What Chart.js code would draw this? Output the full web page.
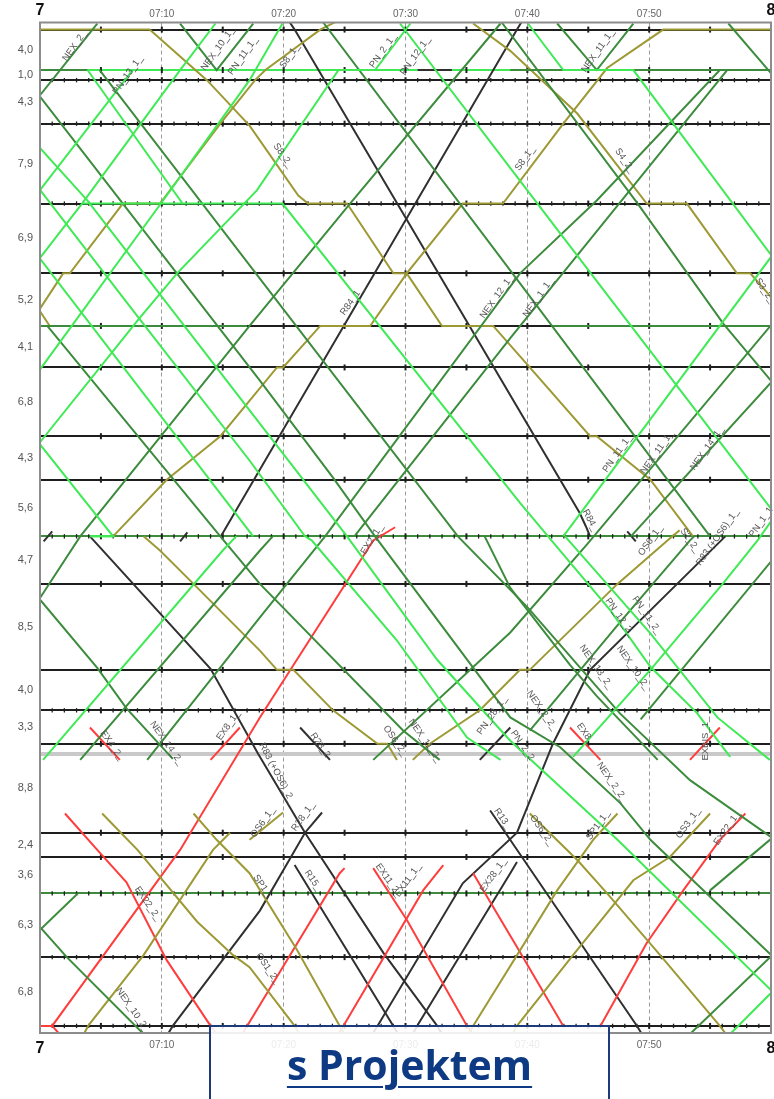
<!DOCTYPE html>
<html>
<head>
<meta charset="utf-8">
<script src="https://cdn.jsdelivr.net/npm/chart.js@4.4.1/dist/chart.umd.min.js"></script>
<style>
  html, body { margin: 0; padding: 0; background: #fff; }
  #wrap { position: relative; width: 774px; height: 1099px; overflow: hidden; }
  #graph { display: block; }
  #note {
    position: absolute; left: 209px; top: 1025px; width: 401px; height: 100px;
    box-sizing: border-box; border: 2px solid #1d3b7c; background: rgba(255,255,255,0.87);
  }
  #note span {
    position: absolute; left: 0; right: 0; top: 17px; text-align: center;
    font: bold 41px/41px "Open Sans", sans-serif; color: #0d3a82;
    text-decoration: underline; text-decoration-thickness: 2px; text-underline-offset: 6px;
  }
</style>
</head>
<body>
<div id="wrap">
  <canvas id="graph" width="774" height="1099"></canvas>
  <div id="note"><span>s Projektem</span></div>
</div>
<script>
// ---- line: stations (km from the top station) and section lengths ----
const stationKm = [0, 4.0, 5.0, 9.3, 17.2, 24.1, 29.3, 33.4, 40.2, 44.5, 50.1, 54.8, 63.3, 67.3, 70.6, 79.4, 81.8, 85.4, 91.7, 98.5];
const sectionLength = ['4,0','1,0','4,3','7,9','6,9','5,2','4,1','6,8','4,3','5,6','4,7','8,5','4,0','3,3','8,8','2,4','3,6','6,3','6,8'];
const loopKm = 71.6;                                // passing loop between 3,3 and 8,8
const minuteTickStations = [2, 3, 4, 10, 13, 17, 18, 19];
const timeTicks = [0, 10, 20, 30, 40, 50, 60];      // minutes after 7:00

// ---- train paths: [minute after 7:00, km] ----
// light green (PN)
const pn13_1  = [[-0.6,16.8],[7.6,4.0]];
const pnA     = [[-0.6,14.9],[8.1,28.5],[17.2,42.6],[21.75,50.1],[22.3,50.5],[29.3,60.4],[35.05,70.0],[37.8,72.2]];
const pnB     = [[-0.6,21.7],[17.5,50.1]];
const pnC     = [[-0.6,40.1],[6.0,50.1],[4.1,50.1]];
const pn2_1   = [[-0.6,41.7],[8.05,28.7],[11.25,24.1],[17.8,15.9],[24.5,4.0],[27.5,4.0],[30.4,-0.6]];
const pn11_1a = [[-0.6,23.5],[3.45,17.2],[11.5,4.0],[14.4,-0.6]];
const pnD     = [[-0.6,34.6],[10.1,16.9],[17.2,5.0],[19.9,-0.6]];
const pn12    = [[3.9,4.0],[11.7,17.2],[19.9,17.2],[39.4,46.8],[41.7,50.1],[46.8,57.4],[50.1,63.0],[53.95,67.6],[56.65,71.9]];
const pnE     = [[29.55,-0.6],[40.0,15.9],[59.9,47.2],[60.5,48.1]];
const pnF     = [[40.05,-0.6],[42.95,4.0],[48.7,4.0],[60.2,22.6]];
const pn11_1  = [[42.95,50.1],[60.3,22.0]];
const pn11_2  = [[43.1,50.1],[50.1,59.7],[55.6,68.0],[59.9,72.2]];
const pn1_1   = [[43.75,71.9],[50.1,63.3],[56.1,54.7],[58.9,50.5],[60.2,48.3]];
const pn2_2   = [[-0.6,10.9],[3.9,16.9],[25.2,50.1],[32.6,62.3],[38.6,70.3],[47.4,80.1],[60.2,95.2]];
const pnG     = [[0.25,72.2],[15.0,51.5],[16.1,50.1]];
const pnH     = [[56.65,99.3],[60.2,95.0]];
const pnS4    = [[3.45,17.2],[11.7,17.2]];
const pnS10   = [[4.1,50.1],[6.0,50.1]];

// dark green (NEX)
const nex2_1  = [[-1.0,8.0],[4.7,-0.6]];
const nex2_2  = [[-0.6,5.7],[6.8,17.2],[18.05,34.7],[24.05,44.3],[27.5,50.1],[38.6,68.0],[42.7,70.95],[47.65,76.5],[50.1,80.1],[60.2,91.7]];
const nex10_1 = [[11.5,-0.6],[14.5,4.0],[17.5,-0.6]];
const nex10_2 = [[4.9,4.0],[34.3,50.1],[40.0,57.1],[47.6,67.6],[53.35,74.2],[60.2,80.0]];
const nex13_2 = [[36.5,50.1],[38.6,55.2],[43.5,62.8],[45.7,65.9],[50.7,72.2]];
const nexA    = [[23.25,-0.7],[39.4,25.1],[55.0,50.1]];
const nexB    = [[37.9,-0.7],[49.0,17.1],[56.1,29.1],[60.2,35.0]];
const nex11_1 = [[42.45,-0.6],[45.7,4.0],[48.7,-0.6]];
const nexC    = [[56.5,-0.6],[60.2,4.6]];
const nexD    = [[-0.6,57.3],[3.3,50.1],[17.2,29.3],[25.45,17.2],[37.8,-0.6]];
const nex12_1 = [[8.8,72.2],[18.05,58.1],[23.4,50.1],[39.4,24.1],[45.7,16.9],[55.8,4.0],[60.2,4.0]];
const nex14_1 = [[27.35,72.2],[38.6,59.6],[44.9,50.9],[60.3,28.8]];
const nexE    = [[48.5,50.1],[60.3,34.5]];
const nex11_2 = [[0.6,29.3],[14.8,50.1],[18.05,54.8],[29.8,69.3],[32.8,72.2]];
const nex1_1  = [[25.8,50.1],[38.6,30.5],[47.6,17.1],[56.4,4.0]];
const nex14_2 = [[-0.6,55.5],[4.7,63.1],[7.1,67.1],[10.9,72.1]];
const nexF    = [[3.3,72.2],[18.05,51.5],[19.1,50.1]];
const nexG    = [[40.2,69.3],[47.6,58.6],[53.35,50.5],[53.7,50.1]];
const nexH    = [[49.3,68.2],[60.2,52.3]];
const nex10_2b= [[-0.6,87.9],[2.2,91.7],[8.5,99.3]];
const nexI    = [[-0.6,89.7],[3.1,85.4]];
const nexJ    = [[53.35,99.3],[60.2,91.4]];
const nexK    = [[55.0,85.1],[60.2,79.8]];
const nexS1a  = [[0,4.0],[3.9,4.0]];
const nexS1b  = [[38.6,4.0],[60,4.0]];
const nexS6a  = [[0,29.3],[17,29.3]];
const nexS6b  = [[42.1,29.3],[60,29.3]];

// olive (S, OS, SP)
const s8_2    = [[-0.5,0],[9.0,0],[13.7,5.0],[17.2,9.5],[21.2,16.4],[22.0,17.2],[25.2,17.2],[29.0,24.1],[30.1,24.1],[33.0,29.3],[37.2,29.3],[40.2,33.4],[45.15,40.2],[45.7,40.2],[50.1,44.5],[53.6,50.1]];
const s8_1    = [[6.0,50.1],[10.4,44.5],[14.8,40.2],[19.45,33.4],[19.95,33.4],[23.0,29.3],[27.1,29.3],[30.1,24.1],[34.7,17.2],[38.0,17.2],[42.95,9.3],[46.55,3.8],[51.15,0],[60.5,0]];
const s4_2    = [[35.55,-0.6],[38.6,2.1],[44.1,8.3],[49.8,17.2],[53.1,17.2],[57.2,24.1],[58.3,24.1],[60.4,27.0]];
const s8_1a   = [[-0.5,28.5],[1.9,24.1],[2.45,24.1],[6.8,17.2],[9.85,17.2],[14.8,9.3],[17.65,5.0],[18.5,4.0],[23.0,0],[24.5,-0.9]];
const s2Stub  = [[-0.3,27.3],[0.8,29.3]];
const os6_2   = [[8.5,50.1],[9.85,51.5],[12.6,54.8],[18.05,61.4],[19.45,63.3],[20.8,63.3],[24.05,67.3],[27.7,70.6],[28.5,70.6],[29.3,72.2]];
const os6_1   = [[30.6,72.2],[32.0,70.6],[36.1,67.3],[39.4,63.3],[40.2,63.3],[47.4,54.8],[51.5,50.5],[52.5,49.5]];
const os1_2   = [[5.1,77.5],[8.0,81.1],[12.9,88.2],[15.85,91.5],[17.2,92.7],[20.9,98.5],[21.3,99.3]];
const osA     = [[3.6,99.3],[3.95,98.5],[8.5,91.5],[14.2,81.1],[15.6,79.4]];
const sp1_2   = [[12.6,77.5],[14.5,80.1],[17.2,83.4],[21.1,91.0],[24.6,98.5],[25.0,99.3]];
const os6_1b  = [[17.2,80.1],[19.95,77.4]];
const os6_2b  = [[40.2,77.5],[44.1,82.1],[46.55,85.4],[50.9,91.5],[55.8,98.5],[56.3,99.3]];
const sp1_1   = [[35.2,99.3],[35.55,98.5],[42.45,85.1],[45.4,80.1],[47.4,77.5]];
const os3_1   = [[38.8,99.3],[39.15,98.5],[43.75,91.5],[48.7,84.1],[51.7,81.8],[55.0,77.5]];

// red (EX)
const ex2_1   = [[-0.5,98.5],[1.0,98.5],[11.5,81.1],[18.05,68.0],[27.35,50.5],[29.15,49.2]];
const exTail  = [[1.0,98.5],[1.6,99.3]];
const ex22_2  = [[2.05,77.5],[4.7,81.1],[7.1,84.3],[10.4,92.0],[14.0,98.5],[14.5,99.3]];
const ex28_22 = [[35.55,83.4],[39.15,90.7],[42.95,98.5],[46.0,98.5],[49.8,90.3],[52.8,85.1],[55.8,80.1],[57.9,77.5]];
const exA     = [[16.6,99.3],[17.0,98.5],[24.6,83.4],[25.0,82.9]];
const ex11_1  = [[24.5,99.3],[24.9,98.5],[31.45,85.1],[33.1,82.6]];
const ex11_2  = [[27.35,82.9],[30.1,88.0],[35.05,98.5],[35.5,99.3]];
const ex4_2   = [[4.1,69.0],[6.55,72.2]];
const ex8_1   = [[14.0,72.2],[16.4,69.0]];
const ex8_2   = [[43.5,69.0],[46.0,72.2]];
const exbis_1 = [[53.35,72.2],[55.8,69.0]];

// black (R)
const r84_1   = [[14.85,50.1],[39.15,0],[39.6,-0.9]];
const r84_2   = [[20.4,-0.9],[20.9,0],[44.3,47.8],[44.8,49.1],[45.15,50.1]];
const r83_2   = [[4.1,50.1],[14.0,63.2],[17.9,71.6],[21.75,79.4],[28.2,91.3],[32.6,98.5],[33.0,99.3]];
const r83_1   = [[27.3,99.3],[27.7,98.5],[34.7,84.4],[39.15,79.4],[42.1,70.6],[45.15,63.3],[56.25,50.1]];
const r28_1   = [[10.5,99.3],[10.9,98.5],[18.05,87.1],[21.75,79.4],[23.15,77.4]];
const r15     = [[20.9,82.6],[29.0,98.5],[29.4,99.3]];
const rEx28   = [[30.6,99.3],[30.95,98.5],[38.6,83.4],[39.15,82.3]];
const r13     = [[36.95,77.2],[38.2,79.4],[49.0,98.5],[49.4,99.3]];
const r28_2   = [[21.35,69.0],[23.8,72.2]];
const r28s    = [[36.1,72.2],[38.6,69.0]];
const rS1     = [[31.0,4.0],[33.8,4.0]];
const rStubA  = [[0.3,50.6],[1.0,49.6]];
const rStubB  = [[11.5,50.6],[12.1,49.7]];
const rStubC  = [[48.2,49.6],[48.9,50.6]];

// train numbers written along the paths: [text, minute, km, angle]
const trainLabels = [
  ['NEX_2_',2.85,1.6,-55], ['PN_13_1_',7.2,4.5,-55], ['NEX_10_1_',14.6,1.9,-55], ['PN_11_1_',16.65,2.6,-55],
  ['S8_1_',20.5,2.6,-55], ['PN_2_1_',28.15,2.1,-55], ['PN_12_1_',30.8,2.6,-55], ['NEX_11_1_',45.8,2.1,-55],
  ['S8_2_',19.95,12.45,55], ['S8_1_',39.8,12.75,-55], ['S4_2_',48.0,12.95,55],
  ['R84_1_',25.6,26.8,-55], ['NEX_12_1_',37.5,26.4,-55], ['NEX_1_1_',40.9,26.5,-55], ['S3_2_',59.5,25.8,55],
  ['PN_11_1_',47.4,41.9,-55], ['NEX_11_1_',50.65,41.8,-55], ['NEX_14_1_',54.75,41.4,-55],
  ['R84_',45.15,48.5,62], ['EX2_1_',27.25,50.4,-58], ['OS6_1_',50.1,50.5,-55], ['S2_2_',53.35,50.5,55],
  ['R83 (+OS6)_1_',55.6,50.2,-55], ['PN_1_1_',59.3,48.5,-55],
  ['PN_12_2_',47.6,58.1,55], ['PN_11_2_',49.8,57.9,55], ['NEX_13_2_',45.65,63.0,55], ['NEX_10_2_',48.7,63.1,55],
  ['NEX_2_2_',41.2,67.3,55], ['EX8_',44.75,69.6,55], ['PN_28_1_',37.1,67.8,-55], ['PN_2_2',39.6,70.75,55],
  ['NEX_11_2_',31.6,70.3,55], ['OS6_2_',29.15,70.3,55], ['R28_2',23.0,70.75,55], ['EX8_1_',15.45,68.8,-55],
  ['NEX_14_2_',10.4,70.55,55], ['EX4_2_',5.9,70.75,55], ['R83 (+OS6)_2_',19.45,73.5,62], ['EXBIS_1_',54.6,70.1,-90],
  ['NEX_2_2_',46.95,74.4,55], ['OS6_2_',41.2,79.15,55], ['SP1_1_',45.8,78.65,-55], ['OS3_1_',53.2,78.45,-55],
  ['EX22_1_',56.4,78.95,-55], ['R13_',37.95,78.0,55], ['OS6_1_',18.3,78.35,-55], ['R28_1_',21.6,77.8,-55],
  ['SP1_',18.2,84.6,55], ['R15_',22.4,84.1,55], ['EX11_2_',28.6,84.1,55], ['EX11_1_',30.2,84.1,-55],
  ['EX28_1_',37.2,83.6,-55], ['EX22_2_',8.85,86.4,55], ['OS1_2_',18.7,92.8,55], ['NEX_10_2_',7.6,96.9,55]
];

// ---- colours ----
const PN = '#3fea55', NEX = '#3d8c3d', OLIVE = '#9d9934', EX = '#ff3d3d', R = '#303030';

const paths = [
  [PN, [pn13_1, pnA, pnB, pnC, pn2_1, pn11_1a, pnD, pn12, pnE, pnF, pn11_1, pn11_2, pn1_1, pn2_2, pnG, pnH, pnS4, pnS10]],
  [NEX, [nex2_1, nex2_2, nex10_1, nex10_2, nex13_2, nexA, nexB, nex11_1, nexC, nexD, nex12_1, nex14_1, nexE, nex11_2,
         nex1_1, nex14_2, nexF, nexG, nexH, nex10_2b, nexI, nexJ, nexK, nexS1a, nexS1b, nexS6a, nexS6b]],
  [OLIVE, [s8_2, s8_1, s4_2, s8_1a, s2Stub, os6_2, os6_1, os1_2, osA, sp1_2, os6_1b, os6_2b, sp1_1, os3_1]],
  [EX, [ex2_1, exTail, ex22_2, ex28_22, exA, ex11_1, ex11_2, ex4_2, ex8_1, ex8_2, exbis_1]],
  [R, [r84_1, r84_2, r83_2, r83_1, r28_1, r15, rEx28, r13, r28_2, r28s, rS1, rStubA, rStubB, rStubC]]
];

const datasets = [];
paths.forEach(([color, group]) => group.forEach(pts => datasets.push({
  data: pts.map(([m, km]) => ({ x: m, y: km })),
  borderColor: color, borderWidth: 2, pointRadius: 0, tension: 0, fill: false, showLine: true
})));

// y ticks: station lines plus section-length labels between them
const mids = stationKm.slice(1).map((v, i) => (v + stationKm[i]) / 2);
const yTicks = [];
stationKm.forEach((v, i) => yTicks.push({ value: v, kind: 'station', i }));
yTicks.push({ value: loopKm, kind: 'loop' });
mids.forEach((v, i) => yTicks.push({ value: v, kind: 'mid', text: sectionLength[i] }));
function stationColor(i) {
  if (i === 1) return PN;
  if (i === 10 || i === 17) return NEX;
  return '#1e1e1e';
}

const tickMarks = {
  id: 'tickMarks',
  beforeDatasetsDraw(chart) {
    const { ctx, scales: { x, y } } = chart;
    ctx.save();
    ctx.strokeStyle = '#1e1e1e';
    stationKm.forEach((km, i) => {
      const py = y.getPixelForValue(km);
      const fine = minuteTickStations.includes(i);
      for (let m = 1; m < 60; m++) {
        const major = m % 5 === 0;
        if (!major && !fine) continue;
        const px = x.getPixelForValue(m);
        ctx.lineWidth = major ? 2 : 1.3;
        const h = major ? 3 : 2.2;
        ctx.beginPath(); ctx.moveTo(px, py - h); ctx.lineTo(px, py + h); ctx.stroke();
      }
    });
    ctx.restore();
  }
};

const labelsAndFrame = {
  id: 'labelsAndFrame',
  afterDatasetsDraw(chart) {
    const { ctx, chartArea: a, scales: { x, y } } = chart;
    ctx.save();
    ctx.font = '9.5px "Liberation Sans", Arial, sans-serif';
    ctx.fillStyle = '#555';
    ctx.textAlign = 'center';
    ctx.textBaseline = 'middle';
    trainLabels.forEach(([t, m, km, deg]) => {
      ctx.save();
      ctx.translate(x.getPixelForValue(m), y.getPixelForValue(km));
      ctx.rotate(deg * Math.PI / 180);
      ctx.fillText(t, 0, 0);
      ctx.restore();
    });
    ctx.strokeStyle = '#8c8c8c';
    ctx.lineWidth = 2;
    ctx.strokeRect(a.left, a.top, a.right - a.left, a.bottom - a.top);
    ctx.restore();
  }
};

function timeLabel(v) { return v === 0 ? '7' : v === 60 ? '8' : '07:' + v; }
function timeFont(c) {
  const v = c.tick ? c.tick.value : null;
  return (v === 0 || v === 60)
    ? { family: '"Liberation Sans", Arial, sans-serif', size: 16, weight: 'bold' }
    : { family: '"Liberation Sans", Arial, sans-serif', size: 10 };
}
function timeColor(c) {
  const v = c.tick ? c.tick.value : null;
  return (v === 0 || v === 60) ? '#111' : '#666';
}
function fixTimeTicks(scale) { scale.ticks = timeTicks.map(v => ({ value: v })); }

new Chart(document.getElementById('graph'), {
  type: 'line',
  data: { datasets },
  options: {
    responsive: false, animation: false, devicePixelRatio: 1,
    parsing: false,
    layout: { padding: { left: 0, right: 3, top: 0, bottom: 36 } },
    plugins: { legend: { display: false }, tooltip: { enabled: false } },
    scales: {
      x: {
        type: 'linear', position: 'bottom', min: 0, max: 60,
        afterBuildTicks: fixTimeTicks,
        afterFit(s) { s.height = 30; s.paddingLeft = 0; s.paddingRight = 0; },
        ticks: { callback: timeLabel, font: timeFont, color: timeColor, padding: 6, autoSkip: false, maxRotation: 0 },
        grid: {
          drawTicks: false, lineWidth: 1,
          color: c => (c.tick && (c.tick.value === 0 || c.tick.value === 60)) ? 'rgba(0,0,0,0)' : '#9c9c9c'
        },
        border: { display: false, dash: [4, 3] }
      },
      xTop: {
        type: 'linear', position: 'top', min: 0, max: 60,
        afterBuildTicks: fixTimeTicks,
        afterFit(s) { s.height = 22.5; s.paddingLeft = 0; s.paddingRight = 0; },
        ticks: { callback: timeLabel, font: timeFont, color: timeColor, padding: 2, autoSkip: false, maxRotation: 0 },
        grid: { display: false, drawTicks: false },
        border: { display: false }
      },
      y: {
        type: 'linear', position: 'left', min: -0.7, max: 99.2, reverse: true,
        afterBuildTicks(scale) { scale.ticks = yTicks.map(t => ({ value: t.value })); },
        afterFit(s) { s.width = 40; s.paddingTop = 0; s.paddingBottom = 0; },
        ticks: {
          autoSkip: false, padding: 7, color: '#555',
          font: { family: '"Liberation Sans", Arial, sans-serif', size: 11 },
          callback: (v, i) => yTicks[i].kind === 'mid' ? yTicks[i].text : ''
        },
        grid: {
          drawTicks: false,
          color: c => {
            const t = yTicks[c.index];
            if (!t || t.kind === 'mid') return 'rgba(0,0,0,0)';
            if (t.kind === 'loop') return '#c9c9c9';
            return stationColor(t.i);
          },
          lineWidth: c => {
            const t = yTicks[c.index];
            if (!t || t.kind === 'mid') return 1;
            return t.kind === 'loop' ? 4 : 2;
          }
        },
        border: { display: false }
      }
    }
  },
  plugins: [tickMarks, labelsAndFrame]
});
</script>
</body>
</html>
